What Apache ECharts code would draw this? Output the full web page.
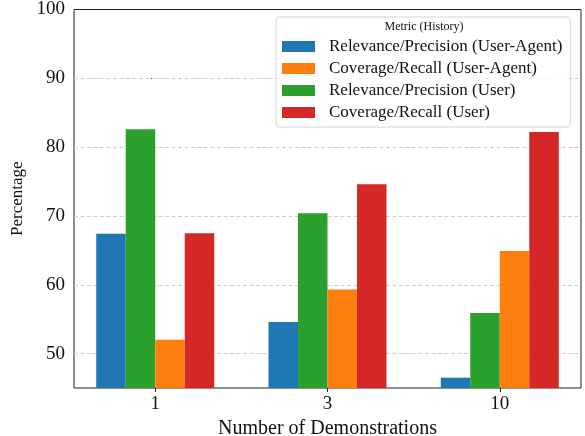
<!DOCTYPE html>
<html>
<head>
<meta charset="utf-8">
<script src="https://cdn.jsdelivr.net/npm/echarts@6/dist/echarts.min.js"></script>
<style>
  html, body { margin: 0; padding: 0; background: #fff; }
  #chart { width: 585px; height: 436px; }
</style>
</head>
<body>
<div id="chart"></div>
<script>
// ---- data ----
const categories = ['1', '3', '10'];
const seriesNames = [
  'Relevance/Precision (User-Agent)',
  'Coverage/Recall (User-Agent)',
  'Relevance/Precision (User)',
  'Coverage/Recall (User)'
];
const relevanceUserAgent = [67.4, 54.6, 46.5];
const coverageUserAgent  = [52.0, 59.3, 64.9];
const relevanceUser      = [82.6, 70.4, 55.9];
const coverageUser       = [67.5, 74.6, 82.2];
const yTicks = [50, 60, 70, 80, 90, 100];
const xLabel = 'Number of Demonstrations';
const yLabel = 'Percentage';
const legendTitle = 'Metric (History)';

// ---- chart ----
const FONT = 'Liberation Serif';
const TXT = '#111';
const colors = { ruA: '#1f77b4', cuA: '#ff7f0e', ru: '#2ca02c', cu: '#d62728' };

function toPts(arr) { return arr.map((v, i) => [i, v]); }

const chart = echarts.init(document.getElementById('chart'), null, { renderer: 'canvas' });

const barCommon = { type: 'bar', barWidth: 29.5, barGap: '0%', clip: true };

const option = {
  animation: false,
  backgroundColor: '#fff',
  textStyle: { fontFamily: FONT, color: TXT },
  grid: {
    left: 74, right: 4, top: 9.5, bottom: 48,
    containLabel: false, outerBoundsMode: 'none',
    show: true, borderColor: '#222', borderWidth: 1, backgroundColor: 'transparent'
  },
  xAxis: {
    type: 'value',
    min: -0.4715, max: 2.4715,
    name: xLabel, nameLocation: 'middle', nameGap: 25,
    nameTextStyle: { fontFamily: FONT, fontSize: 20, color: TXT },
    axisLine: { show: false },
    axisTick: { show: true, length: 4, inside: false, customValues: [0, 1, 2], lineStyle: { color: '#222' } },
    axisLabel: {
      customValues: [0, 1, 2], margin: 7,
      fontFamily: FONT, fontSize: 19, color: TXT,
      formatter: v => categories[Math.round(v)] ?? ''
    },
    splitLine: { show: false }
  },
  yAxis: {
    type: 'value',
    min: 45, max: 100,
    name: yLabel, nameLocation: 'middle', nameGap: 43,
    nameTextStyle: { fontFamily: FONT, fontSize: 17, color: TXT },
    axisLine: { show: false },
    axisTick: { show: true, length: 4, inside: false, customValues: yTicks, lineStyle: { color: '#222' } },
    axisLabel: {
      customValues: yTicks, margin: 9,
      fontFamily: FONT, fontSize: 19, color: TXT
    },
    splitLine: { show: false }
  },
  legend: {
    orient: 'vertical',
    left: 276, top: 17,
    padding: [21, 8, 6, 6],
    itemWidth: 33, itemHeight: 11, itemGap: 5,
    icon: 'rect',
    backgroundColor: 'rgba(255,255,255,0.8)',
    borderColor: '#d6d6d6', borderWidth: 1, borderRadius: 3,
    data: seriesNames,
    textStyle: { fontFamily: FONT, fontSize: 17, color: TXT, lineHeight: 16, padding: [0, 0, 0, 9] }
  },
  graphic: [{
    type: 'text', z: 100,
    x: 424, y: 27,
    style: {
      text: legendTitle, fontFamily: FONT, fontSize: 12, fill: TXT,
      textAlign: 'center', textVerticalAlign: 'middle'
    }
  }],
  series: [
    Object.assign({}, barCommon, {
      name: seriesNames[0], data: toPts(relevanceUserAgent), itemStyle: { color: colors.ruA },
      markLine: {
        silent: true, symbol: 'none', z: 1, animation: false,
        label: { show: false },
        lineStyle: { color: '#cfcfcf', width: 1, type: [4, 2.5] },
        data: yTicks.filter(v => v < 100).map(v => ({ yAxis: v }))
      }
    }),
    Object.assign({}, barCommon, { name: seriesNames[2], data: toPts(relevanceUser), itemStyle: { color: colors.ru } }),
    Object.assign({}, barCommon, { name: seriesNames[1], data: toPts(coverageUserAgent), itemStyle: { color: colors.cuA } }),
    Object.assign({}, barCommon, { name: seriesNames[3], data: toPts(coverageUser), itemStyle: { color: colors.cu } })
  ]
};

chart.setOption(option);
</script>
</body>
</html>
